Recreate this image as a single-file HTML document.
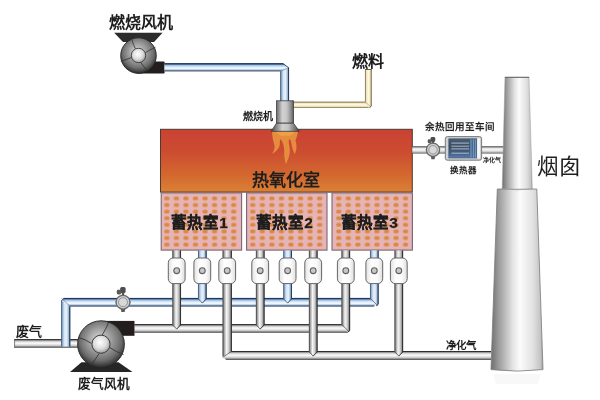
<!DOCTYPE html>
<html lang="zh-CN"><head><meta charset="utf-8">
<style>
html,body{margin:0;padding:0;background:#fff;width:600px;height:400px;overflow:hidden}
svg{display:block;filter:blur(0.4px)}
text{font-family:"Liberation Sans",sans-serif;fill:#1e1e1e}
</style></head><body>
<svg width="600" height="400" viewBox="0 0 600 400">
<defs>
<linearGradient id="bH" x1="0" y1="0" x2="0" y2="1"><stop offset="0" stop-color="#1f3a60"/><stop offset="0.12" stop-color="#3d6593"/><stop offset="0.26" stop-color="#a3c2e2"/><stop offset="0.5" stop-color="#e6f1fb"/><stop offset="0.66" stop-color="#eef6fd"/><stop offset="0.8" stop-color="#b4cce4"/><stop offset="0.9" stop-color="#7d93ae"/><stop offset="1" stop-color="#4a5a72"/></linearGradient>
<linearGradient id="bV" x1="0" y1="0" x2="1" y2="0"><stop offset="0" stop-color="#3a5f8c"/><stop offset="0.12" stop-color="#86a9cf"/><stop offset="0.35" stop-color="#d6e6f6"/><stop offset="0.6" stop-color="#e6f0fb"/><stop offset="0.82" stop-color="#a2bbd6"/><stop offset="1" stop-color="#3a485e"/></linearGradient>
<linearGradient id="gH" x1="0" y1="0" x2="0" y2="1"><stop offset="0" stop-color="#2e2e2e"/><stop offset="0.12" stop-color="#8a8a8a"/><stop offset="0.32" stop-color="#e6e6e6"/><stop offset="0.5" stop-color="#f8f8f8"/><stop offset="0.72" stop-color="#d6d6d6"/><stop offset="0.9" stop-color="#9a9a9a"/><stop offset="1" stop-color="#4a4a4a"/></linearGradient>
<linearGradient id="gV" x1="0" y1="0" x2="1" y2="0"><stop offset="0" stop-color="#555"/><stop offset="0.15" stop-color="#9a9a9a"/><stop offset="0.42" stop-color="#f5f5f5"/><stop offset="0.65" stop-color="#d4d4d4"/><stop offset="0.88" stop-color="#8a8a8a"/><stop offset="1" stop-color="#333"/></linearGradient>
<linearGradient id="cH" x1="0" y1="0" x2="0" y2="1"><stop offset="0" stop-color="#8a7a58"/><stop offset="0.18" stop-color="#ece0b6"/><stop offset="0.5" stop-color="#fffae4"/><stop offset="0.82" stop-color="#f0e4ba"/><stop offset="1" stop-color="#8a7a58"/></linearGradient>
<linearGradient id="cV" x1="0" y1="0" x2="1" y2="0"><stop offset="0" stop-color="#8a7a58"/><stop offset="0.18" stop-color="#ece0b6"/><stop offset="0.5" stop-color="#fffae4"/><stop offset="0.82" stop-color="#f0e4ba"/><stop offset="1" stop-color="#8a7a58"/></linearGradient>
<linearGradient id="ox" x1="0" y1="0" x2="0" y2="1"><stop offset="0" stop-color="#c94233"/><stop offset="0.35" stop-color="#cc4c31"/><stop offset="0.7" stop-color="#d3662f"/><stop offset="1" stop-color="#da8035"/></linearGradient>
<linearGradient id="chim" x1="0" y1="0" x2="1" y2="0"><stop offset="0" stop-color="#6e6e6e"/><stop offset="0.15" stop-color="#9c9c9c"/><stop offset="0.42" stop-color="#e4e4e4"/><stop offset="0.56" stop-color="#fbfbfb"/><stop offset="0.8" stop-color="#e2e2e2"/><stop offset="0.95" stop-color="#c4c4c4"/><stop offset="1" stop-color="#a0a0a0"/></linearGradient>
<linearGradient id="burn" x1="0" y1="0" x2="1" y2="0"><stop offset="0" stop-color="#6a6a6a"/><stop offset="0.35" stop-color="#d2d2d2"/><stop offset="0.6" stop-color="#c6c6c6"/><stop offset="0.85" stop-color="#8e8e8e"/><stop offset="1" stop-color="#5a5a5a"/></linearGradient>
<linearGradient id="cone" x1="0" y1="0" x2="1" y2="0"><stop offset="0" stop-color="#4a4a4a"/><stop offset="0.4" stop-color="#d0d0d0"/><stop offset="0.6" stop-color="#c4c4c4"/><stop offset="1" stop-color="#464646"/></linearGradient>
<linearGradient id="valve" x1="0" y1="0" x2="1" y2="0"><stop offset="0" stop-color="#e2e2e2"/><stop offset="0.35" stop-color="#ffffff"/><stop offset="0.7" stop-color="#fafafa"/><stop offset="1" stop-color="#dedede"/></linearGradient>
<linearGradient id="hx" x1="0" y1="0" x2="0" y2="1"><stop offset="0" stop-color="#4a5c72"/><stop offset="0.4" stop-color="#3c4e64"/><stop offset="0.8" stop-color="#48628a"/><stop offset="1" stop-color="#5c80b4"/></linearGradient>
<radialGradient id="fan" cx="0.5" cy="0.42" r="0.58" fx="0.45" fy="0.4">
<stop offset="0" stop-color="#dadada"/><stop offset="0.35" stop-color="#aaaaaa"/><stop offset="0.75" stop-color="#6e6e6e"/><stop offset="1" stop-color="#2a2a2a"/>
</radialGradient>
<radialGradient id="hub" cx="0.45" cy="0.4" r="0.65">
<stop offset="0" stop-color="#ffffff"/><stop offset="0.55" stop-color="#dcdcdc"/><stop offset="1" stop-color="#8e8e8e"/>
</radialGradient>
<pattern id="dots" x="162.1" y="195.1" width="9.55" height="6.6" patternUnits="userSpaceOnUse">
<rect x="2.2" y="1.4" width="5.1" height="3.9" rx="1.5" fill="#d98a40"/>
</pattern>
</defs>
<polygon points="114.2,32.8 162.6,32.8 154,42 123,42" fill="#2b2b2b"/>
<rect x="137" y="61.4" width="27.6" height="12.1" rx="1" fill="#231d1d"/>
<circle cx="138.5" cy="55.6" r="17.8" fill="url(#fan)" stroke="#262626" stroke-width="0.9"/>
<g fill="none" stroke="#363636" stroke-width="0.85"><path d="M135.4,48.8 Q133,44 131.9,39.8"/><path d="M145.2,52.9 Q150,49.5 155.4,47.3"/><path d="M131.3,57.5 Q126,60 120.8,61.1"/><path d="M140.6,62.2 Q144,67 147.7,71"/></g>
<circle cx="138.5" cy="55.5" r="7.2" fill="url(#hub)" stroke="#3a3a3a" stroke-width="0.9"/>
<polygon points="164.50,63.30 283.00,63.30 289.00,68.00 280.30,71.30 164.50,71.30" fill="url(#bH)"/>
<polygon points="289.00,68.00 289.00,101.00 280.30,101.00 280.30,71.30" fill="url(#bV)"/>
<line x1="164.5" y1="63.7" x2="283" y2="63.7" stroke="#1c355a" stroke-width="0.9"/>
<line x1="164.5" y1="70.9" x2="280.5" y2="70.9" stroke="#4f6078" stroke-width="0.8"/>
<line x1="280.7" y1="71.3" x2="280.7" y2="101" stroke="#4f6078" stroke-width="0.8"/>
<line x1="288.6" y1="68" x2="288.6" y2="101" stroke="#1c355a" stroke-width="0.9"/>
<line x1="289" y1="67.5" x2="280.3" y2="71.3" stroke="#56708e" stroke-width="0.6"/>
<line x1="283" y1="63.6" x2="289" y2="68" stroke="#2a3f5e" stroke-width="0.9"/>
<polygon points="293.50,101.80 365.00,101.80 371.60,106.00 369.80,107.80 293.50,107.80" fill="url(#cH)"/>
<polygon points="365.00,69.20 371.60,69.20 371.60,106.00 369.80,107.80 365.00,101.80" fill="url(#cV)"/>
<line x1="293.5" y1="102.2" x2="365" y2="102.2" stroke="#8a7a58" stroke-width="0.7"/>
<line x1="293.5" y1="107.4" x2="368" y2="107.4" stroke="#8a7a58" stroke-width="0.7"/>
<line x1="365.4" y1="69.2" x2="365.4" y2="101.8" stroke="#8a7a58" stroke-width="0.7"/>
<line x1="371.2" y1="69.2" x2="371.2" y2="106" stroke="#7a6a48" stroke-width="0.8"/>
<line x1="365" y1="101.8" x2="370.8" y2="107" stroke="#9a8a66" stroke-width="0.6"/>
<line x1="371.3" y1="106" x2="369.6" y2="107.5" stroke="#6a5a3a" stroke-width="0.9"/>
<rect x="365" y="69" width="6.6" height="1" fill="#6a5a3a"/>
<rect x="160.5" y="129.3" width="251.8" height="62.8" fill="url(#ox)" stroke="#4e3a30" stroke-width="1"/>
<path d="M272,131.3 L298,131.3 C297.5,135 296.5,138 295.5,140.5 C296.8,145 297,149 295.5,152 C295.2,153 295,154 294.9,154.6 C293.5,151.5 292,148 291.6,144.5 C291.3,142 290.5,139.8 289.5,139 C288.6,140 288.6,142 289.2,145 C290,149 290.2,153 289,156.5 C288,159.5 287,161.8 286,164.2 C285,160.5 284,157 284.2,153 C284.4,150 284,146 282.8,143 C282,141 281.2,139.5 280.5,139.2 C279.8,140 279.8,142 279.8,144 C279.6,148 276.5,151.5 272.2,153.8 C274,150.5 275,148 274.4,145 C273.6,142 272.4,138 272,131.3 Z" fill="#e8923f" opacity="0.92"/>
<path d="M276,131.6 L294.5,131.6 C293.5,134 291.5,135.5 289,136 C287,135.2 284.5,135.2 282.5,136 C279.5,135.5 277,134 276,131.6 Z" fill="#efa84c" opacity="0.7"/>
<rect x="276.5" y="100.8" width="17" height="22.4" fill="url(#burn)" stroke="#3e3e3e" stroke-width="0.8"/>
<polygon points="276.5,123.2 293.5,123.2 299.3,131.3 271.2,131.3" fill="url(#cone)" stroke="#3a3a3a" stroke-width="0.8"/>
<rect x="161.2" y="192.9" width="80.4" height="57.2" fill="#e6b3b6" stroke="#7a6672" stroke-width="1.1"/>
<rect x="161.79999999999998" y="193.5" width="76" height="56" fill="url(#dots)"/>
<rect x="246.6" y="192.9" width="80.4" height="57.2" fill="#e6b3b6" stroke="#7a6672" stroke-width="1.1"/>
<rect x="247.2" y="193.5" width="76" height="56" fill="url(#dots)"/>
<rect x="332.0" y="192.9" width="80.4" height="57.2" fill="#e6b3b6" stroke="#7a6672" stroke-width="1.1"/>
<rect x="332.6" y="193.5" width="76" height="56" fill="url(#dots)"/>
<polygon points="14.20,339.20 80.00,339.20 80.00,347.60 14.20,347.60" fill="url(#gH)"/>
<line x1="14.20" y1="339.60" x2="80.00" y2="339.60" stroke="#2a2a2a" stroke-width="0.9"/>
<line x1="14.20" y1="347.20" x2="80.00" y2="347.20" stroke="#505050" stroke-width="0.8"/>
<line x1="14.6" y1="339.4" x2="14.6" y2="347.4" stroke="#666" stroke-width="0.8"/>
<polygon points="61.20,300.60 63.80,298.00 370.00,298.00 376.00,304.00 374.00,306.40 70.20,306.40" fill="url(#bH)"/>
<line x1="63.80" y1="298.40" x2="370.00" y2="298.40" stroke="#1c355a" stroke-width="0.9"/>
<line x1="70.20" y1="306.00" x2="374.00" y2="306.00" stroke="#4f6078" stroke-width="0.8"/>
<polygon points="61.20,300.60 70.20,306.40 70.20,346.50 61.20,346.50" fill="url(#bV)"/>
<line x1="61.60" y1="300.60" x2="61.60" y2="346.50" stroke="#4f6078" stroke-width="0.8"/>
<line x1="69.80" y1="306.40" x2="69.80" y2="346.50" stroke="#1c355a" stroke-width="0.9"/>
<line x1="61.5" y1="300.7" x2="63.9" y2="298.3" stroke="#2a4468" stroke-width="0.9"/>
<line x1="61.4" y1="298.2" x2="70.2" y2="306.4" stroke="#5a7090" stroke-width="0.6"/>
<polygon points="134.50,324.20 341.60,324.20 349.90,330.40 347.70,332.60 134.50,332.60" fill="url(#gH)"/>
<line x1="134.50" y1="324.60" x2="341.60" y2="324.60" stroke="#2a2a2a" stroke-width="0.9"/>
<line x1="134.50" y1="332.20" x2="347.70" y2="332.20" stroke="#505050" stroke-width="0.8"/>
<polygon points="231.60,351.10 491.00,351.10 491.00,359.70 226.00,359.70 222.90,357.00" fill="url(#gH)"/>
<line x1="231.60" y1="351.50" x2="491.00" y2="351.50" stroke="#2a2a2a" stroke-width="0.9"/>
<line x1="226.00" y1="359.30" x2="491.00" y2="359.30" stroke="#505050" stroke-width="0.8"/>
<polygon points="198.05,250.50 206.55,250.50 206.55,299.00 202.30,303.50 198.05,299.00" fill="url(#bV)"/>
<path d="M198.45,250.5 L198.45,299 L202.30,303.1" fill="none" stroke="#4f6078" stroke-width="0.8"/>
<path d="M202.30,303.1 L206.15,299 L206.15,250.5" fill="none" stroke="#1c355a" stroke-width="0.9"/>
<polygon points="283.35,250.50 291.85,250.50 291.85,299.00 287.60,303.50 283.35,299.00" fill="url(#bV)"/>
<path d="M283.75,250.5 L283.75,299 L287.60,303.1" fill="none" stroke="#4f6078" stroke-width="0.8"/>
<path d="M287.60,303.1 L291.45,299 L291.45,250.5" fill="none" stroke="#1c355a" stroke-width="0.9"/>
<polygon points="370.05,250.50 378.55,250.50 378.55,304.00 376.55,306.40 370.05,298.00" fill="url(#bV)"/>
<line x1="370.45" y1="250.50" x2="370.45" y2="298.00" stroke="#4f6078" stroke-width="0.8"/>
<line x1="378.15" y1="250.50" x2="378.15" y2="304.00" stroke="#1c355a" stroke-width="0.9"/>
<line x1="370.05" y1="298" x2="377.55" y2="305.6" stroke="#3a5576" stroke-width="0.7"/>
<line x1="378.25" y1="304" x2="376.35" y2="306.1" stroke="#2e3a4e" stroke-width="0.8"/>
<polygon points="172.45,250.50 180.95,250.50 180.95,325.00 176.70,329.50 172.45,325.00" fill="url(#gV)"/>
<path d="M172.85,250.5 L172.85,325 L176.70,329.1" fill="none" stroke="#505050" stroke-width="0.8"/>
<path d="M176.70,329.1 L180.55,325 L180.55,250.5" fill="none" stroke="#2a2a2a" stroke-width="0.9"/>
<polygon points="255.95,250.50 264.45,250.50 264.45,325.00 260.20,329.50 255.95,325.00" fill="url(#gV)"/>
<path d="M256.35,250.5 L256.35,325 L260.20,329.1" fill="none" stroke="#505050" stroke-width="0.8"/>
<path d="M260.20,329.1 L264.05,325 L264.05,250.5" fill="none" stroke="#2a2a2a" stroke-width="0.9"/>
<polygon points="341.55,250.50 350.05,250.50 350.05,330.40 347.85,332.60 341.55,324.20" fill="url(#gV)"/>
<line x1="341.95" y1="250.50" x2="341.95" y2="324.20" stroke="#505050" stroke-width="0.8"/>
<line x1="349.65" y1="250.50" x2="349.65" y2="330.40" stroke="#2a2a2a" stroke-width="0.9"/>
<line x1="341.55" y1="324.2" x2="349.05" y2="331.8" stroke="#444" stroke-width="0.7"/>
<line x1="349.75" y1="330.4" x2="347.65000000000003" y2="332.3" stroke="#2a2a2a" stroke-width="0.9"/>
<polygon points="222.65,250.50 231.75,250.50 231.75,351.10 222.65,357.00" fill="url(#gV)"/>
<line x1="223.05" y1="250.50" x2="223.05" y2="356.00" stroke="#505050" stroke-width="0.8"/>
<line x1="231.35" y1="250.50" x2="231.35" y2="351.50" stroke="#2a2a2a" stroke-width="0.9"/>
<line x1="231.75" y1="351.1" x2="222.64999999999998" y2="357.5" stroke="#444" stroke-width="0.7"/>
<polygon points="308.95,250.50 317.45,250.50 317.45,352.00 313.20,356.50 308.95,352.00" fill="url(#gV)"/>
<path d="M309.35,250.5 L309.35,352 L313.20,356.1" fill="none" stroke="#505050" stroke-width="0.8"/>
<path d="M313.20,356.1 L317.05,352 L317.05,250.5" fill="none" stroke="#2a2a2a" stroke-width="0.9"/>
<polygon points="394.55,250.50 403.05,250.50 403.05,352.00 398.80,356.50 394.55,352.00" fill="url(#gV)"/>
<path d="M394.95,250.5 L394.95,352 L398.80,356.1" fill="none" stroke="#505050" stroke-width="0.8"/>
<path d="M398.80,356.1 L402.65,352 L402.65,250.5" fill="none" stroke="#2a2a2a" stroke-width="0.9"/>
<rect x="168.30" y="258" width="16.8" height="25.6" rx="4.8" fill="url(#valve)" stroke="#666" stroke-width="1"/>
<circle cx="176.70" cy="270.7" r="2.9" fill="#c8c8c8" stroke="#606060" stroke-width="1.1"/>
<rect x="193.90" y="258" width="16.8" height="25.6" rx="4.8" fill="url(#valve)" stroke="#666" stroke-width="1"/>
<circle cx="202.30" cy="270.7" r="2.9" fill="#c8c8c8" stroke="#606060" stroke-width="1.1"/>
<rect x="218.80" y="258" width="16.8" height="25.6" rx="4.8" fill="url(#valve)" stroke="#666" stroke-width="1"/>
<circle cx="227.20" cy="270.7" r="2.9" fill="#c8c8c8" stroke="#606060" stroke-width="1.1"/>
<rect x="251.80" y="258" width="16.8" height="25.6" rx="4.8" fill="url(#valve)" stroke="#666" stroke-width="1"/>
<circle cx="260.20" cy="270.7" r="2.9" fill="#c8c8c8" stroke="#606060" stroke-width="1.1"/>
<rect x="279.20" y="258" width="16.8" height="25.6" rx="4.8" fill="url(#valve)" stroke="#666" stroke-width="1"/>
<circle cx="287.60" cy="270.7" r="2.9" fill="#c8c8c8" stroke="#606060" stroke-width="1.1"/>
<rect x="304.80" y="258" width="16.8" height="25.6" rx="4.8" fill="url(#valve)" stroke="#666" stroke-width="1"/>
<circle cx="313.20" cy="270.7" r="2.9" fill="#c8c8c8" stroke="#606060" stroke-width="1.1"/>
<rect x="337.40" y="258" width="16.8" height="25.6" rx="4.8" fill="url(#valve)" stroke="#666" stroke-width="1"/>
<circle cx="345.80" cy="270.7" r="2.9" fill="#c8c8c8" stroke="#606060" stroke-width="1.1"/>
<rect x="365.90" y="258" width="16.8" height="25.6" rx="4.8" fill="url(#valve)" stroke="#666" stroke-width="1"/>
<circle cx="374.30" cy="270.7" r="2.9" fill="#c8c8c8" stroke="#606060" stroke-width="1.1"/>
<rect x="390.40" y="258" width="16.8" height="25.6" rx="4.8" fill="url(#valve)" stroke="#666" stroke-width="1"/>
<circle cx="398.80" cy="270.7" r="2.9" fill="#c8c8c8" stroke="#606060" stroke-width="1.1"/>
<rect x="120.20" y="287.00" width="5.40" height="6.00" rx="1.60" fill="#4d4d4d"/>
<rect x="116.80" y="289.80" width="4.40" height="4.60" rx="1.40" fill="#5a5a5a"/>
<rect x="121.80" y="292.20" width="2.40" height="3.00" fill="#555"/>
<polygon points="120.70,308.30 125.30,308.30 124.60,311.90 121.40,311.90" fill="#5a5a5a"/>
<ellipse cx="123" cy="302.2" rx="7.50" ry="5.52" fill="#8a8a8a"/>
<circle cx="123" cy="302.2" r="6.9" fill="#d0d0d0" stroke="#6a6a6a" stroke-width="1.3"/>
<circle cx="123" cy="302.2" r="4.50" fill="#d8d8d8" stroke="#7a7a7a" stroke-width="0.7"/>
<polygon points="81.5,362.3 118.5,362.3 132.5,372 70,372" fill="#262626"/>
<rect x="100.7" y="320.9" width="33.8" height="14.9" fill="#231d1d"/>
<circle cx="101" cy="344.2" r="23.4" fill="url(#fan)" stroke="#262626" stroke-width="0.9"/>
<g fill="none" stroke="#363636" stroke-width="0.9"><path d="M102.3,334.9 Q106,329 108.8,322"/><path d="M91.3,343.4 Q85,339 78.2,337.5"/><path d="M99,353.8 Q95,360 90.6,365.5"/><path d="M109.5,347.3 Q116,352 123.5,354.5"/></g>
<circle cx="101" cy="344.2" r="9.1" fill="url(#hub)" stroke="#3a3a3a" stroke-width="1"/>
<polygon points="412.30,146.20 503.50,146.20 503.50,153.40 412.30,153.40" fill="url(#gH)"/>
<rect x="430.62" y="136.88" width="4.59" height="5.10" rx="1.36" fill="#4d4d4d"/>
<rect x="427.73" y="139.26" width="3.74" height="3.91" rx="1.19" fill="#5a5a5a"/>
<rect x="431.98" y="141.30" width="2.04" height="2.55" fill="#555"/>
<polygon points="430.70,155.60 435.30,155.60 434.60,159.20 431.40,159.20" fill="#5a5a5a"/>
<ellipse cx="433" cy="149.8" rx="7.20" ry="5.28" fill="#8a8a8a"/>
<circle cx="433" cy="149.8" r="6.6" fill="#d0d0d0" stroke="#6a6a6a" stroke-width="1.3"/>
<circle cx="433" cy="149.8" r="4.20" fill="#d8d8d8" stroke="#7a7a7a" stroke-width="0.7"/>
<rect x="445.3" y="136.6" width="36.3" height="23.6" rx="2" fill="#ccd2d8" stroke="#6e6e6e" stroke-width="0.9"/>
<rect x="448.8" y="138.8" width="28" height="19.2" fill="url(#hx)" stroke="#394a60" stroke-width="0.5"/>
<rect x="477.2" y="138.4" width="2.8" height="20" fill="#f4f6f8"/>
<g stroke="#d2deea" stroke-width="0.75"><line x1="451.4" y1="143.1" x2="469" y2="143.1"/><line x1="451.4" y1="146.2" x2="469" y2="146.2"/><line x1="451.4" y1="148.9" x2="469" y2="148.9"/><line x1="451.4" y1="153.2" x2="469" y2="153.2"/></g>
<rect x="469.8" y="139" width="6.8" height="18.8" fill="#4e72a0" opacity="0.7"/><g stroke="#8fb6d2" stroke-width="0.6"><line x1="471" y1="139.5" x2="471" y2="157.5"/><line x1="473.5" y1="139.5" x2="473.5" y2="157.5"/><line x1="475.5" y1="139.5" x2="475.5" y2="157.5"/></g>
<path d="M493,374 L541,374 L538,384 L496,384 Z" fill="#f4f4f4" opacity="0.6"/>
<path d="M497.3,189 L536.8,189 L543,369.6 Q517,372.6 491,369.6 Z" fill="url(#chim)" stroke="#7a7a7a" stroke-width="0.8"/>
<path d="M505,77.3 L529,77.3 L532.3,189 L502.2,189 Z" fill="url(#chim)" stroke="#9a9a9a" stroke-width="0.5"/>
<line x1="504.8" y1="77.3" x2="529.2" y2="77.3" stroke="#555" stroke-width="0.9"/>
<path d="M502.2,188.8 Q517,190.8 532.3,188.8" fill="none" stroke="#9a9a9a" stroke-width="0.6"/>
<text x="109.0" y="28.0" font-size="16" font-weight="700" text-anchor="start">燃烧风机</text>
<text x="243" y="119.8" font-size="10" font-weight="700" text-anchor="start">燃烧机</text>
<text x="352.0" y="66.8" font-size="16" font-weight="700" text-anchor="start">燃料</text>
<text x="286.4" y="186" font-size="17" font-weight="700" text-anchor="middle">热氧化室</text>
<text x="171.2" y="228.2" font-size="15.5" font-weight="700" text-anchor="start" stroke="#1e1e1e" stroke-width="0.25">蓄热室1</text>
<text x="256.2" y="228.2" font-size="15.5" font-weight="700" text-anchor="start" stroke="#1e1e1e" stroke-width="0.25">蓄热室2</text>
<text x="341.2" y="228.2" font-size="15.5" font-weight="700" text-anchor="start" stroke="#1e1e1e" stroke-width="0.25">蓄热室3</text>
<text x="425.3" y="130.3" font-size="9.5" font-weight="700" text-anchor="start">余热回用至车间</text>
<text x="450.3" y="172.6" font-size="8.5" font-weight="700" text-anchor="start">换热器</text>
<text x="483.3" y="161.6" font-size="6" font-weight="700" text-anchor="start">净化气</text>
<text x="536.8" y="174.0" font-size="21.5" font-weight="500" text-anchor="start">烟囱</text>
<text x="15.5" y="335.6" font-size="13" font-weight="700" text-anchor="start">废气</text>
<text x="78.0" y="388.0" font-size="12.7" font-weight="700" text-anchor="start">废气风机</text>
<text x="446" y="349.3" font-size="10.5" font-weight="700" text-anchor="start">净化气</text>
</svg>
</body></html>
